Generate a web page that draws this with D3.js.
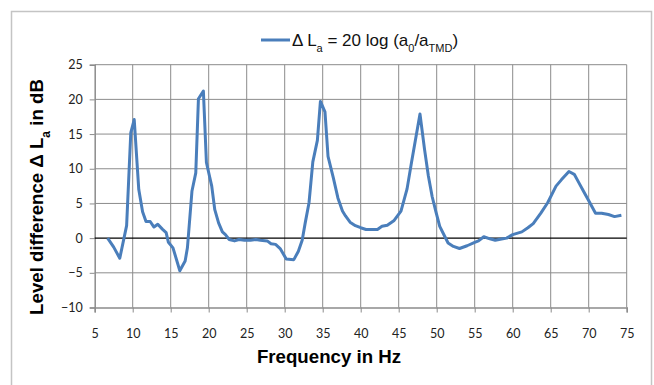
<!DOCTYPE html>
<html>
<head>
<meta charset="utf-8">
<script src="https://cdn.jsdelivr.net/npm/d3@7"></script>
<style>
  body { margin: 0; background: #fff; }
  svg { display: block; }
</style>
</head>
<body>
<svg id="chart"></svg>
<script>
// frequency in Hz and level difference in dB
const freq = [6.7, 7.5, 8.3, 9.2, 9.75, 10.2, 10.8, 11.3, 11.75, 12.3, 12.8, 13.3, 13.9, 14.4, 14.7, 15.3,
  16.2, 16.9, 17.2, 17.8, 18.3, 18.65, 19.3, 19.7, 20.4, 20.8, 21.3, 21.8, 22.2, 22.7, 23.4, 24.0,
  24.7, 25.5, 26.2, 26.8, 27.7, 28.2, 28.8, 29.4, 30.2, 31.2, 31.8, 32.3, 32.7, 33.2, 33.7, 34.3,
  34.7, 35.3, 35.7, 36.4, 37.0, 37.6, 38.0, 38.6, 39.3, 40.0, 40.7, 41.5, 42.2, 42.8, 43.5, 44.4,
  45.3, 46.1, 46.7, 47.8, 48.4, 48.9, 49.4, 49.9, 50.4, 50.9, 51.5, 52.2, 53.0, 54.0, 55.0, 55.5,
  56.2, 57.0, 57.7, 58.7, 59.2, 60.0, 61.2, 62.0, 62.7, 63.7, 64.6, 65.7, 66.4, 67.4, 68.1, 68.7,
  69.3, 69.9, 70.9, 71.7, 72.6, 73.4, 74.3];
const level = [0.0, -1.3, -2.9, 1.8, 15.2, 17.1, 7.0, 3.8, 2.4, 2.4, 1.6, 2.0, 1.3, 0.8, -0.6, -1.4,
  -4.7, -3.3, -1.4, 6.8, 9.4, 20.1, 21.2, 10.9, 7.5, 4.1, 2.2, 0.9, 0.5, -0.2, -0.4, -0.2,
  -0.3, -0.3, -0.2, -0.3, -0.4, -0.8, -0.9, -1.5, -3.0, -3.1, -1.9, -0.3, 2.2, 5.1, 11.0, 14.1,
  19.7, 18.2, 11.8, 8.7, 5.8, 3.9, 3.2, 2.3, 1.8, 1.5, 1.25, 1.25, 1.25, 1.7, 1.85, 2.55,
  3.9, 7.1, 11.0, 17.9, 12.8, 9.0, 6.0, 3.8, 1.7, 0.6, -0.7, -1.2, -1.5, -1.1, -0.6, -0.4,
  0.2, -0.1, -0.3, -0.1, 0.0, 0.5, 0.9, 1.5, 2.1, 3.6, 5.1, 7.5, 8.4, 9.6, 9.2, 8.0,
  6.8, 5.6, 3.6, 3.6, 3.4, 3.1, 3.3];

const xTicks = [5, 10, 15, 20, 25, 30, 35, 40, 45, 50, 55, 60, 65, 70, 75];
const yTicks = [-10, -5, 0, 5, 10, 15, 20, 25];

const W = 654, H = 385;
const plot = { left: 94.7, right: 626.7, top: 64.7, bottom: 307.5 };
const lineColor = "#4a7ebb";
const gridColor = "#8c8c8c";

const svg = d3.select("#chart")
    .attr("width", W)
    .attr("height", H);

// chart frame
svg.append("rect")
    .attr("x", 11.5).attr("y", 11.5)
    .attr("width", 640).attr("height", 400)
    .attr("fill", "#fff")
    .attr("stroke", "#c4c4c4")
    .attr("stroke-width", 1.5);

const x = d3.scaleLinear([5, 75], [plot.left, plot.right]);
const y = d3.scaleLinear([-10, 25], [plot.bottom, plot.top]);

// grid
svg.append("g")
    .selectAll("line")
    .data(yTicks.filter(d => d !== 0 && d !== -10))
    .join("line")
    .attr("x1", plot.left).attr("x2", plot.right)
    .attr("y1", d => y(d)).attr("y2", d => y(d))
    .attr("stroke", gridColor);

svg.append("g")
    .selectAll("line")
    .data(xTicks.filter(d => d !== 5))
    .join("line")
    .attr("x1", d => x(d)).attr("x2", d => x(d))
    .attr("y1", plot.top).attr("y2", plot.bottom)
    .attr("stroke", gridColor);

// axes
const xAxis = d3.axisBottom(x).tickValues(xTicks).tickSize(5).tickPadding(17);
const yAxis = d3.axisLeft(y).tickValues(yTicks).tickSize(5).tickPadding(7);

const gx = svg.append("g")
    .attr("transform", `translate(0,${plot.bottom})`)
    .call(xAxis);
const gy = svg.append("g")
    .attr("transform", `translate(${plot.left},0)`)
    .call(yAxis);

[gx, gy].forEach(g => {
    g.select(".domain").attr("stroke", gridColor).attr("stroke-width", 1.5);
    g.selectAll(".tick line").attr("stroke", gridColor);
    g.selectAll("text")
        .attr("fill", "#222")
        .style("font-family", "Lato, 'Open Sans', sans-serif")
        .style("font-size", "12.5px");
});

// zero line
svg.append("line")
    .attr("x1", plot.left).attr("x2", plot.right)
    .attr("y1", y(0)).attr("y2", y(0))
    .attr("stroke", "#000")
    .attr("stroke-width", 1.2);

// data line
const data = freq.map((f, i) => [f, level[i]]);
const line = d3.line()
    .x(d => x(d[0]))
    .y(d => y(d[1]));

svg.append("path")
    .datum(data)
    .attr("fill", "none")
    .attr("stroke", lineColor)
    .attr("stroke-width", 3)
    .attr("stroke-linejoin", "round")
    .attr("d", line);

// axis titles
const titleFont = "'Liberation Sans', Arial, sans-serif";

svg.append("text")
    .attr("x", 329)
    .attr("y", 363)
    .attr("text-anchor", "middle")
    .style("font-family", titleFont)
    .style("font-size", "18.67px")
    .style("font-weight", "bold")
    .text("Frequency in Hz");

const yTitle = svg.append("text")
    .attr("transform", "translate(43,197) rotate(-90)")
    .attr("text-anchor", "middle")
    .style("font-family", titleFont)
    .style("font-size", "18.67px")
    .style("font-weight", "bold");
yTitle.append("tspan").text("Level difference Δ L");
yTitle.append("tspan").attr("baseline-shift", "sub").style("font-size", "12px").text("a");
yTitle.append("tspan").text(" in dB");

// legend
const legend = svg.append("g");
legend.append("line")
    .attr("x1", 261).attr("x2", 290)
    .attr("y1", 40).attr("y2", 40)
    .attr("stroke", lineColor)
    .attr("stroke-width", 3);

const lt = legend.append("text")
    .attr("x", 292)
    .attr("y", 46)
    .style("font-family", titleFont)
    .style("font-size", "17px")
    .attr("fill", "#111");
lt.append("tspan").text("Δ L");
lt.append("tspan").attr("baseline-shift", "sub").style("font-size", "11px").text("a");
lt.append("tspan").text(" = 20 log (a");
lt.append("tspan").attr("baseline-shift", "sub").style("font-size", "11px").text("0");
lt.append("tspan").text("/a");
lt.append("tspan").attr("baseline-shift", "sub").style("font-size", "11px").text("TMD");
lt.append("tspan").text(")");
</script>
</body>
</html>
